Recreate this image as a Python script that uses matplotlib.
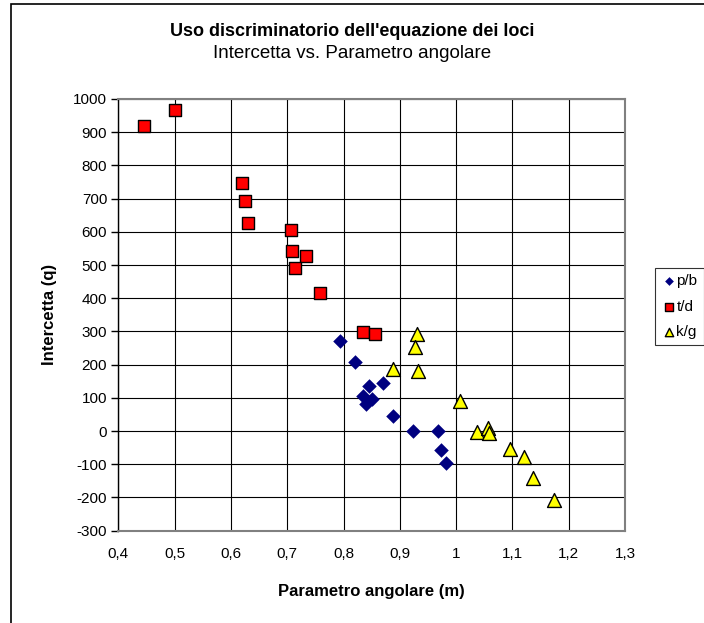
import numpy as np
import matplotlib.pyplot as plt
from matplotlib.patches import Rectangle
from matplotlib.ticker import FuncFormatter, MultipleLocator

plt.rcParams['font.family'] = ['Liberation Sans', 'DejaVu Sans']
plt.rcParams['axes.unicode_minus'] = False

# Parametro angolare (m) e intercetta (q) per ciascun gruppo
pb_m = [0.794, 0.821, 0.846, 0.871, 0.834, 0.851, 0.840, 0.888, 0.923, 0.968, 0.974, 0.982]
pb_q = [271, 208, 136, 145, 105, 98, 83, 45, 0, 0, -57, -95]

td_m = [0.446, 0.501, 0.619, 0.625, 0.631, 0.707, 0.708, 0.733, 0.713, 0.759, 0.835, 0.856]
td_q = [920, 968, 746, 694, 628, 607, 541, 526, 491, 416, 298, 292]

kg_m = [0.930, 0.927, 0.933, 0.888, 1.007, 1.038, 1.056, 1.058, 1.095, 1.121, 1.136, 1.174]
kg_q = [293, 253, 181, 186, 90, -2, 8, -5, -55, -79, -142, -209]

fig = plt.figure(figsize=(7.04, 6.23), dpi=100)
ax = fig.add_axes([118.3 / 704, 1 - 530.7 / 623, (625 - 118.3) / 704, (530.7 - 99) / 623])

# cornice del grafico
fig.add_artist(Rectangle((11 / 704, -0.05), 1.1, 1 - 4 / 623 + 0.05, transform=fig.transFigure,
                         fill=False, edgecolor='black', lw=1.2))

ax.scatter(pb_m, pb_q, marker='D', s=55, color='#000080', linewidths=0, label='p/b', zorder=3)
ax.scatter(td_m, td_q, marker='s', s=75, color='#ff0000', edgecolors='black', linewidths=1,
           label='t/d', zorder=3)
ax.scatter(kg_m, kg_q, marker='^', s=100, color='#ffff00', edgecolors='black', linewidths=1,
           label='k/g', zorder=3)

ax.set_xlim(0.4, 1.3)
ax.set_ylim(-300, 1000)
ax.xaxis.set_major_locator(MultipleLocator(0.1))
ax.yaxis.set_major_locator(MultipleLocator(100))
ax.xaxis.set_major_formatter(FuncFormatter(lambda v, p: f'{v:.1f}'.replace('.', ',').replace(',0', '')))
ax.grid(True, color='black', lw=0.8)
ax.set_axisbelow(True)

for side in ['top', 'right', 'bottom']:
    ax.spines[side].set_color('#808080')
    ax.spines[side].set_linewidth(1.5)
ax.spines['left'].set_color('black')
ax.spines['left'].set_linewidth(1)
ax.tick_params(axis='x', length=0, pad=12, labelsize=11)
ax.tick_params(axis='y', length=5, width=1, labelsize=11, pad=3)

ax.set_xlabel('Parametro angolare (m)', fontsize=12, fontweight='bold', labelpad=16)
ax.set_ylabel('Intercetta (q)', fontsize=12, fontweight='bold', labelpad=12)

fig.text(0.5, 1 - 31 / 623, "Uso discriminatorio dell'equazione dei loci", ha='center', va='center',
         fontsize=13, fontweight='bold')
fig.text(0.5, 1 - 53 / 623, 'Intercetta vs. Parametro angolare', ha='center', va='center', fontsize=13.5)

leg = ax.legend(loc='upper left', bbox_to_anchor=(655 / 704, 1 - 268 / 623), bbox_transform=fig.transFigure,
                fontsize=11, frameon=True, fancybox=False, borderpad=0.4, handletextpad=0.0,
                handlelength=1.0, labelspacing=0.75, markerscale=0.6, borderaxespad=0)
leg.get_frame().set_edgecolor('black')
leg.get_frame().set_linewidth(0.8)

fig.savefig('out.png', dpi=100)
